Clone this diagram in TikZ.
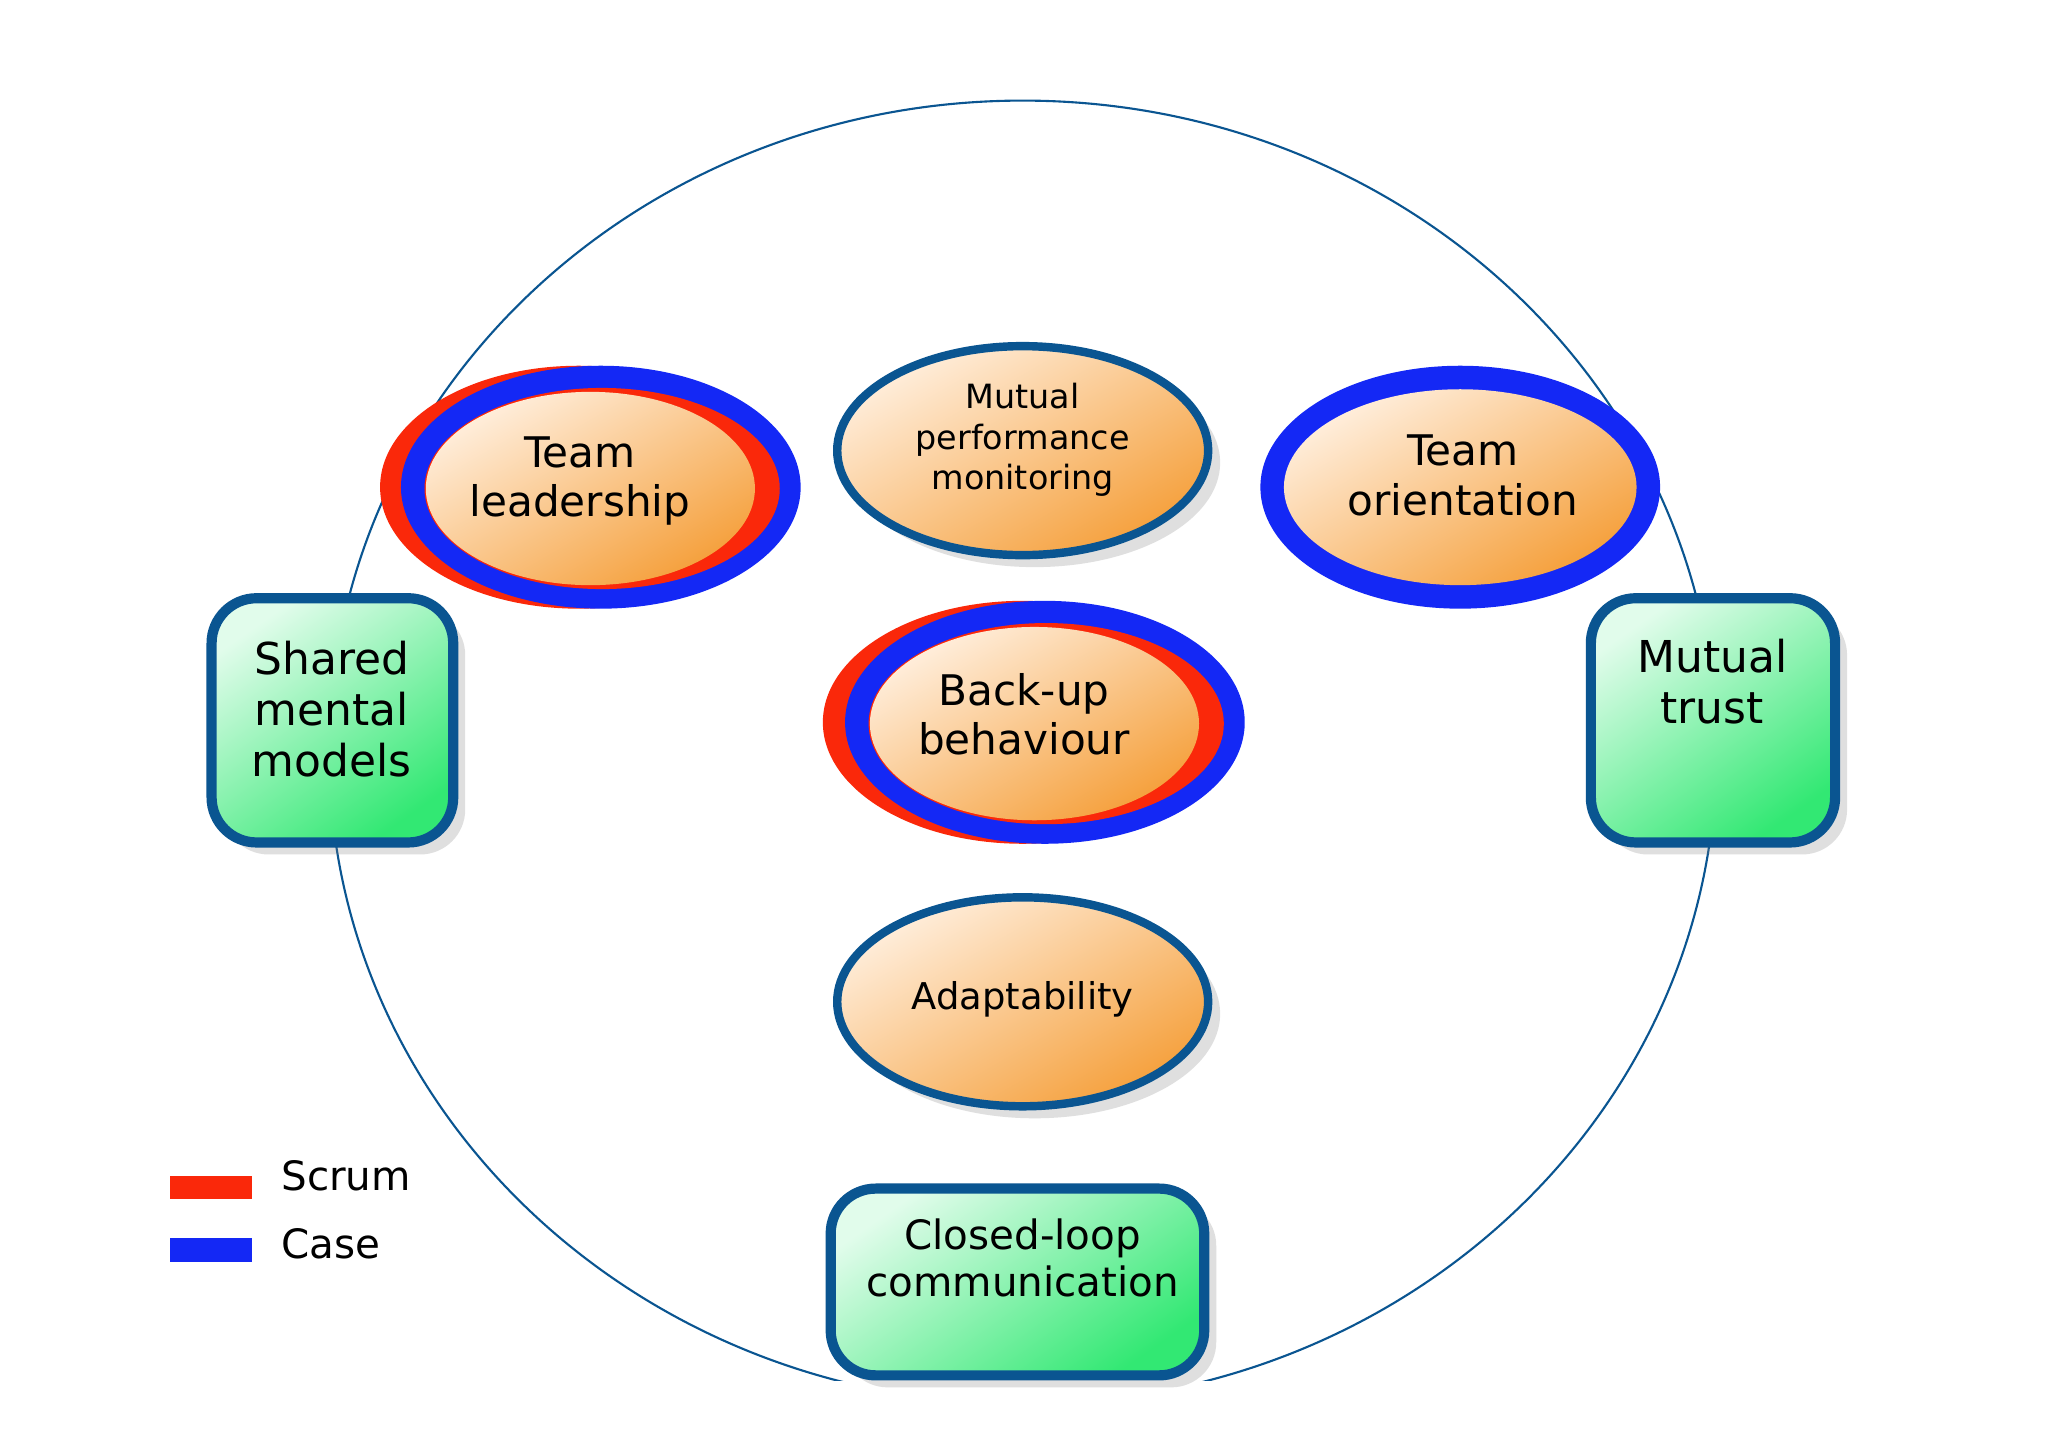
\documentclass[tikz,border=0pt]{standalone}
\usepackage{fontspec}
\setmainfont{DejaVu Sans}
\usetikzlibrary{shadows}
\definecolor{rimblue}{RGB}{10,85,145}
\definecolor{caseblue}{RGB}{20,40,245}
\definecolor{scrumred}{RGB}{250,40,10}
\definecolor{orlight}{RGB}{255,238,220}
\definecolor{ordark}{RGB}{245,160,60}
\definecolor{grlight}{RGB}{225,252,235}
\definecolor{grdark}{RGB}{50,232,115}
\begin{document}
\begin{tikzpicture}[x=0.01306cm,y=-0.01306cm,
  orfill/.style={shading=axis,top color=orlight,bottom color=ordark,shading angle=30},
  shad/.style={drop shadow={shadow xshift=1.2mm,shadow yshift=-1.2mm,opacity=0.25}},
  box/.style={draw=rimblue,line width=2.9pt,rounded corners=4.5mm,shading=axis,top color=grlight,bottom color=grdark,shading angle=35,shad},
  lbl/.style={align=center},
  big/.style={font=\fontsize{12}{14}\selectfont},
  small/.style={font=\fontsize{9.5}{11.5}\selectfont}]
\useasboundingbox (0,0) rectangle (1568,1107);
\fill[white] (0,0) rectangle (1568,1107);
\begin{scope}
\clip (0,0) rectangle (1568,1057);
\draw[rimblue,line width=0.6pt] (783,576) ellipse [x radius=531,y radius=499];
\end{scope}
% Team leadership
\fill[scrumred] (443,373) ellipse [x radius=152,y radius=93];
\fill[caseblue] (460,373) ellipse [x radius=153,y radius=93];
\fill[scrumred] (461,374) ellipse [x radius=136,y radius=77];
\shade[orfill] (452,374) ellipse [x radius=126,y radius=74];
\node[lbl,big] (tl) at (444,368) {Team\\leadership};
% Mutual performance monitoring
\draw[rimblue,line width=2.4pt,orfill,shad] (783,345) ellipse [x radius=142,y radius=80];
\node[lbl,small] (mpm) at (783,337) {Mutual\\performance\\monitoring};
% Team orientation
\fill[caseblue] (1118,373) ellipse [x radius=153,y radius=93];
\shade[orfill] (1118,373) ellipse [x radius=135,y radius=75];
\node[lbl,big] (to) at (1120,364) {Team\\orientation};
% Back-up behaviour
\fill[scrumred] (783,553) ellipse [x radius=153,y radius=93];
\fill[caseblue] (800,553) ellipse [x radius=153,y radius=93];
\fill[scrumred] (801,554) ellipse [x radius=136,y radius=77];
\shade[orfill] (792,554) ellipse [x radius=126,y radius=74];
\node[lbl,big] (bb) at (784,547) {Back-up\\behaviour};
% Adaptability
\draw[rimblue,line width=2.4pt,orfill,shad] (783,767) ellipse [x radius=142,y radius=80];
\node[lbl,font=\fontsize{10.5}{12.5}\selectfont] (ad) at (783,765) {Adaptability};
% boxes
\draw[box] (162,458) rectangle (347,645);
\node[lbl,font=\fontsize{12.5}{14.5}\selectfont] (smm) at (254,543) {Shared\\mental\\models};
\draw[box] (1218,458) rectangle (1405,645);
\node[lbl,font=\fontsize{12.5}{14.5}\selectfont] (mt) at (1311,522) {Mutual\\trust};
\draw[box] (636,910) rectangle (922,1053);
\node[lbl,font=\fontsize{11.5}{13.5}\selectfont] (clc) at (783,963) {Closed-loop\\communication};
% legend
\fill[scrumred] (130,900) rectangle (193,918);
\fill[caseblue] (130,948) rectangle (193,966);
\node[anchor=west,font=\fontsize{11.5}{13}\selectfont] (scrum) at (206,900) {Scrum};
\node[anchor=west,font=\fontsize{11.5}{13}\selectfont] (case) at (206,952) {Case};
\end{tikzpicture}
\end{document}
